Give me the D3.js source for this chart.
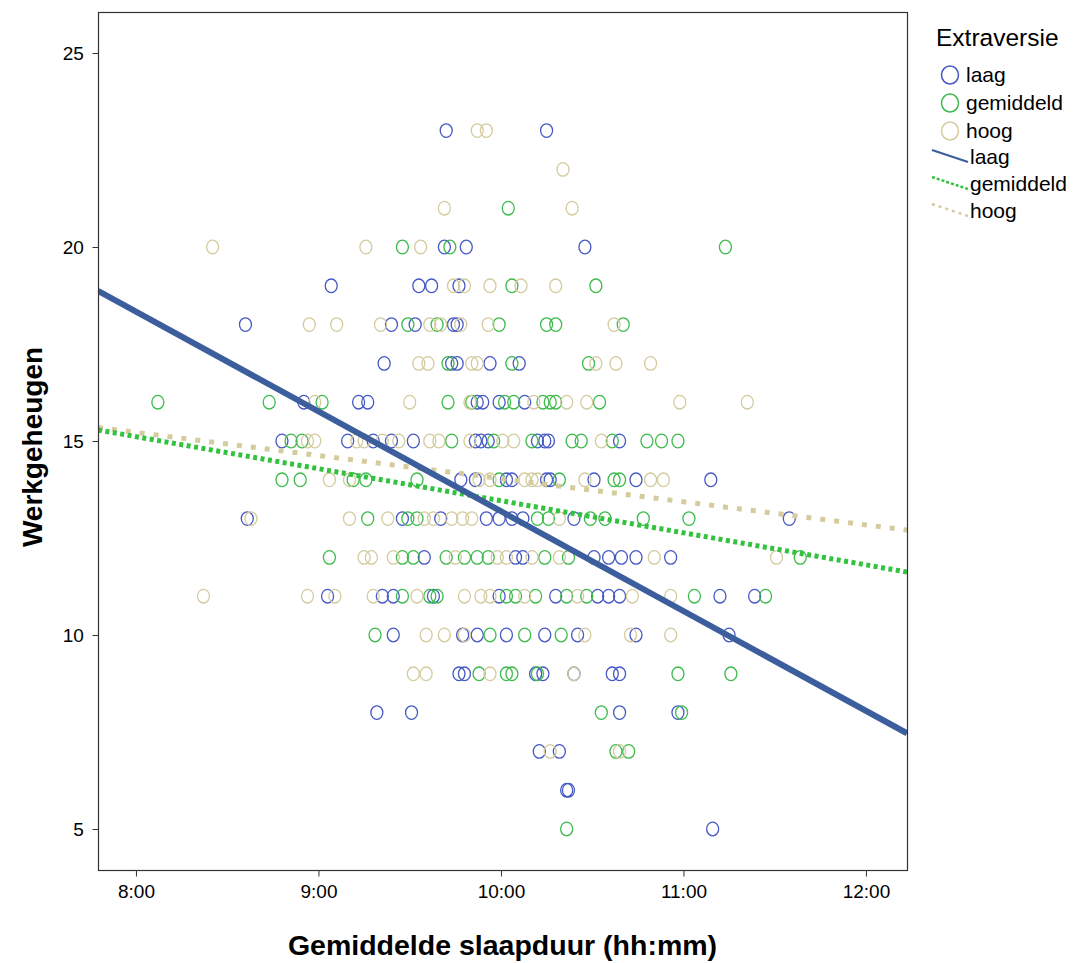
<!DOCTYPE html>
<html>
<head>
<meta charset="utf-8">
<script src="https://cdn.jsdelivr.net/npm/d3@7"></script>
<style>
  body { margin: 0; background: #fff; }
  text { font-family: Arial, "Liberation Sans", sans-serif; fill: #000; }
</style>
</head>
<body>
<div class="chart"></div>
<script>
// slaapduur in uren (decimaal), werkgeheugen score
const laag = [
  [9.70,23],[10.25,23],
  [9.69,20],[9.81,20],[10.46,20],
  [9.07,19],[9.55,19],[9.62,19],[9.77,19],
  [8.60,18],[9.40,18],[9.53,18],[9.74,18],[9.76,18],
  [9.36,17],[9.73,17],[9.76,17],[9.94,17],[10.10,17],
  [8.92,16],[9.22,16],[9.27,16],[9.87,16],[9.90,16],[9.99,16],[10.13,16],
  [8.80,15],[9.16,15],[9.30,15],[9.40,15],[9.52,15],[9.86,15],[9.89,15],[9.93,15],[10.20,15],[10.24,15],[10.26,15],[10.65,15],
  [9.78,14],[9.86,14],[10.03,14],[10.06,14],[10.25,14],[10.27,14],[10.51,14],[10.74,14],[11.15,14],
  [8.61,13],[9.46,13],[9.67,13],[9.92,13],[9.99,13],[10.06,13],[10.12,13],[10.40,13],[11.58,13],
  [9.58,12],[10.08,12],[10.12,12],[10.51,12],[10.59,12],[10.66,12],[10.74,12],[10.93,12],
  [9.05,11],[9.35,11],[9.41,11],[9.63,11],[9.99,11],[10.30,11],[10.53,11],[10.59,11],[10.65,11],[11.20,11],[11.39,11],
  [9.41,10],[9.79,10],[9.87,10],[10.03,10],[10.24,10],[10.42,10],[10.74,10],[11.25,10],
  [9.77,9],[9.80,9],[10.19,9],[10.23,9],[10.40,9],[10.61,9],[10.65,9],
  [9.32,8],[9.51,8],[10.65,8],[10.97,8],
  [10.21,7],[10.32,7],
  [10.36,6],[10.37,6],
  [11.16,5]
];
const gemiddeld = [
  [10.04,21],
  [9.46,20],[9.72,20],[11.23,20],
  [10.06,19],[10.52,19],
  [9.49,18],[9.65,18],[9.99,18],[10.25,18],[10.30,18],[10.67,18],
  [9.71,17],[10.06,17],[10.48,17],
  [8.12,16],[8.73,16],[9.02,16],[9.71,16],[9.84,16],[10.02,16],[10.07,16],[10.23,16],[10.27,16],[10.30,16],[10.54,16],
  [8.85,15],[8.91,15],[9.73,15],[9.96,15],[10.17,15],[10.39,15],[10.44,15],[10.61,15],[10.80,15],[10.88,15],[10.97,15],
  [8.80,14],[8.90,14],[9.19,14],[9.26,14],[9.54,14],[9.99,14],[10.32,14],[10.62,14],[10.65,14],
  [9.27,13],[9.49,13],[9.54,13],[10.20,13],[10.26,13],[10.49,13],[10.57,13],[10.78,13],[11.03,13],
  [9.06,12],[9.46,12],[9.52,12],[9.70,12],[9.80,12],[9.87,12],[9.93,12],[10.24,12],[10.37,12],[11.64,12],
  [9.46,11],[9.61,11],[9.65,11],[10.03,11],[10.08,11],[10.19,11],[10.36,11],[10.47,11],[11.06,11],[11.45,11],
  [9.31,10],[9.94,10],[10.13,10],[10.33,10],
  [9.88,9],[10.03,9],[10.06,9],[10.20,9],[10.97,9],[11.26,9],
  [10.55,8],[10.99,8],
  [10.63,7],[10.70,7],
  [10.36,5]
];
const hoog = [
  [9.87,23],[9.92,23],
  [10.34,22],
  [9.69,21],[10.39,21],
  [8.42,20],[9.26,20],[9.56,20],
  [9.74,19],[9.80,19],[9.94,19],[10.11,19],[10.30,19],
  [8.95,18],[9.10,18],[9.34,18],[9.61,18],[9.67,18],[9.78,18],[9.93,18],[10.62,18],
  [9.55,17],[9.60,17],[9.84,17],[9.87,17],[10.52,17],[10.63,17],[10.82,17],
  [8.98,16],[9.50,16],[9.83,16],[10.18,16],[10.36,16],[10.47,16],[10.98,16],[11.35,16],
  [8.94,15],[8.98,15],[9.21,15],[9.25,15],[9.35,15],[9.44,15],[9.61,15],[9.66,15],[9.83,15],[10.01,15],[10.07,15],[10.55,15],
  [9.06,14],[9.17,14],[9.88,14],[9.94,14],[10.13,14],[10.17,14],[10.20,14],[10.46,14],[10.82,14],[10.89,14],
  [8.63,13],[9.17,13],[9.38,13],[9.58,13],[9.63,13],[9.73,13],[9.79,13],[9.84,13],[10.32,13],
  [9.25,12],[9.29,12],[9.41,12],[9.75,12],[9.98,12],[10.03,12],[10.17,12],[10.32,12],[10.84,12],[11.51,12],
  [8.37,11],[8.94,11],[9.09,11],[9.30,11],[9.54,11],[9.80,11],[9.89,11],[9.94,11],[10.13,11],[10.42,11],[10.72,11],[10.93,11],
  [9.59,10],[9.69,10],[9.80,10],[10.46,10],[10.71,10],[10.93,10],
  [9.52,9],[9.59,9],[9.94,9],[10.40,9],
  [10.27,7],[10.65,7]
];

const groupNames = ["laag", "gemiddeld", "hoog"];
const pointColors = ["#4659c4", "#3dbb4c", "#d4cb9f"];
const lineColors = ["#3c5e9c", "#33c23f", "#d4cb9f"];
// fitlijnen: werkgeheugen = intercept + slope * uren
const fitIntercept = [38.91, 21.72, 19.99];
const fitSlope = [-2.572, -0.826, -0.596];

const xTicks = [8, 9, 10, 11, 12];
const yTicks = [5, 10, 15, 20, 25];

const svg_width = 1073, svg_height = 963;
const plot = {left: 98, top: 12, right: 907, bottom: 870};

const svg = d3.select(".chart").append("svg")
  .attr("width", svg_width).attr("height", svg_height);

const xScale = d3.scaleLinear([7.792, 12.225], [plot.left, plot.right]);
const yScale = d3.scaleLinear([3.943, 26.057], [plot.bottom, plot.top]);

svg.append("clipPath").attr("id", "clip")
  .append("rect")
  .attr("x", plot.left).attr("y", plot.top)
  .attr("width", plot.right - plot.left).attr("height", plot.bottom - plot.top);

// points
const groups = [laag, gemiddeld, hoog];
groups.forEach((pts, i) => {
  svg.append("g").attr("class", "pts " + groupNames[i])
    .selectAll("ellipse")
    .data(pts)
    .enter()
    .append("ellipse")
    .attr("cx", d => xScale(d[0]))
    .attr("cy", d => yScale(d[1]))
    .attr("rx", 6)
    .attr("ry", 6.8)
    .style("fill", "none")
    .style("stroke", pointColors[i])
    .style("stroke-width", 1.3);
});

// fit lines (hoog, gemiddeld, laag on top)
const dashes = [null, "4,3.5", "5,9"];
const widths = [6, 5, 5];
const xDom = xScale.domain();
[2, 1, 0].forEach(i => {
  const lineData = xDom.map(x => [x, fitIntercept[i] + fitSlope[i] * x]);
  svg.append("path")
    .attr("clip-path", "url(#clip)")
    .attr("d", d3.line().x(d => xScale(d[0])).y(d => yScale(d[1]))(lineData))
    .style("fill", "none")
    .style("stroke", lineColors[i])
    .style("stroke-width", widths[i])
    .style("stroke-dasharray", dashes[i]);
});

// frame
svg.append("rect")
  .attr("x", plot.left + 0.5).attr("y", plot.top + 0.5)
  .attr("width", plot.right - plot.left).attr("height", plot.bottom - plot.top)
  .style("fill", "none").style("stroke", "#333").style("stroke-width", 1.2);

const xAxis = d3.axisBottom(xScale).tickValues(xTicks)
  .tickFormat(d => d + ":00").tickSize(6).tickSizeOuter(0);
const xAxisDraw = svg.append("g").attr("class", "x axis")
  .attr("transform", `translate(0,${plot.bottom + 0.5})`).call(xAxis);
xAxisDraw.select(".domain").remove();
xAxisDraw.selectAll("text").style("font-size", "19px")
  .style("font-family", "Arial, 'Liberation Sans', sans-serif").attr("dy", "0.95em");

const yAxis = d3.axisLeft(yScale).tickValues(yTicks).tickSize(6).tickSizeOuter(0);
const yAxisDraw = svg.append("g").attr("class", "y axis")
  .attr("transform", `translate(${plot.left + 0.5},0)`).call(yAxis);
yAxisDraw.select(".domain").remove();
yAxisDraw.selectAll("text").style("font-size", "19px")
  .style("font-family", "Arial, 'Liberation Sans', sans-serif").attr("dx", "-0.3em");
svg.selectAll(".axis line").style("stroke", "#333");

// axis titles
svg.append("text")
  .attr("x", (plot.left + plot.right) / 2)
  .attr("y", 955)
  .style("text-anchor", "middle")
  .style("font-weight", "bold")
  .style("font-size", "28.5px")
  .text("Gemiddelde slaapduur (hh:mm)");

svg.append("text")
  .attr("transform", "rotate(-90)")
  .attr("x", -(plot.top + plot.bottom) / 2 - 6)
  .attr("y", 42)
  .style("text-anchor", "middle")
  .style("font-weight", "bold")
  .style("font-size", "28px")
  .text("Werkgeheugen");

// legend
const legend = svg.append("g").attr("class", "legend");
legend.append("text").attr("x", 936).attr("y", 46)
  .style("font-size", "24.5px").text("Extraversie");

groupNames.forEach((name, i) => {
  const y = 75 + i * 28;
  legend.append("ellipse")
    .attr("cx", 950).attr("cy", y).attr("rx", 8.5).attr("ry", 9)
    .style("fill", "none").style("stroke", pointColors[i]).style("stroke-width", 1.5);
  legend.append("text").attr("x", 966).attr("y", y + 7)
    .style("font-size", "21px").text(name);
});

groupNames.forEach((name, i) => {
  const y = 157 + i * 27;
  legend.append("line")
    .attr("x1", 932).attr("y1", y - 7).attr("x2", 968).attr("y2", y + 5)
    .style("stroke", lineColors[i])
    .style("stroke-width", i === 0 ? 2 : 2.5)
    .style("stroke-dasharray", i === 0 ? null : (i === 1 ? "3,2" : "3,4"));
  legend.append("text").attr("x", 970).attr("y", y + 7)
    .style("font-size", "21px").text(name);
});
</script>
</body>
</html>
